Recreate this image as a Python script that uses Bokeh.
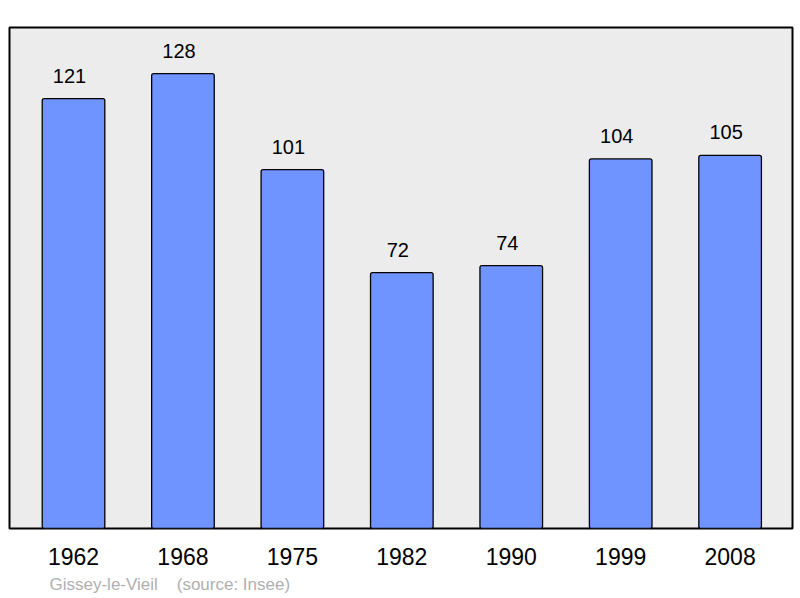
from bokeh.plotting import figure
from bokeh.models import ColumnDataSource, FixedTicker, Title, Range1d
from bokeh.core.properties import value
from bokeh.embed import file_html
from bokeh.resources import INLINE

years = ["1962", "1968", "1975", "1982", "1990", "1999", "2008"]
population = [121, 128, 101, 72, 74, 104, 105]
place = "Gissey-le-Vieil"
source_note = "(source: Insee)"

idx = list(range(len(years)))
src = ColumnDataSource(data=dict(x=idx, top=population, lbl=[str(v) for v in population]))

p = figure(width=800, height=598, output_backend="svg", toolbar_location=None,
           x_range=Range1d(-0.585, 6.57), y_range=Range1d(0, 141),
           min_border_left=9, min_border_right=8, min_border_top=27, min_border_bottom=70)

p.background_fill_color = "#ececec"
p.border_fill_color = "white"
p.outline_line_color = "black"
p.outline_line_width = 2
p.xgrid.visible = False
p.ygrid.visible = False
p.yaxis.visible = False

p.vbar(x="x", top="top", width=0.572, source=src, fill_color="#7094ff",
       line_color="black", line_width=1.3, border_radius=2)

# value labels sit a little left of the bar centre, as in the original
p.text(x="x", y="top", text="lbl", source=src, text_align="center", text_baseline="bottom",
       x_offset=-4, y_offset=-16, text_font=value("Liberation Sans"),
       text_font_size="20px", text_color="black")

p.xaxis.ticker = FixedTicker(ticks=idx)
p.xaxis.major_label_overrides = {i: y for i, y in enumerate(years)}
p.xaxis.axis_line_color = None
p.xaxis.major_tick_line_color = None
p.xaxis.minor_tick_line_color = None
p.xaxis.major_label_standoff = 13
p.xaxis.major_label_text_font = "Liberation Sans"
p.xaxis.major_label_text_font_size = "23px"
p.xaxis.major_label_text_color = "black"

gap = "\u00a0" * 4
p.add_layout(Title(text=place + gap + source_note, align="left", offset=40,
                   text_font="Liberation Sans", text_font_size="17px",
                   text_color="#b0b0b0", text_font_style="normal"), "below")

open("out.html", "w").write(file_html(p, INLINE))
